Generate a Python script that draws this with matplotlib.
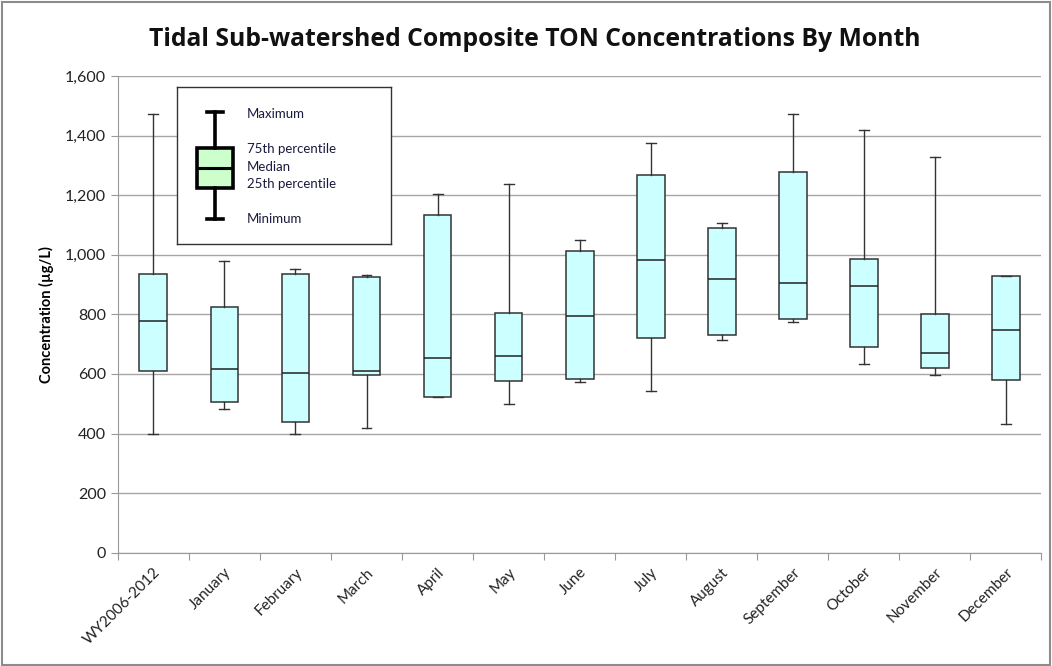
import matplotlib
matplotlib.use("Agg")
import matplotlib.pyplot as plt
from matplotlib.patches import Rectangle
import numpy as np

plt.rcParams['font.family'] = ['Lato', 'DejaVu Sans']

categories = ['WY2006-2012', 'January', 'February', 'March', 'April', 'May', 'June',
              'July', 'August', 'September', 'October', 'November', 'December']
minimum = [397, 483, 397, 420, 522, 500, 573, 543, 714, 773, 634, 597, 433]
q1 = [609, 506, 439, 597, 522, 577, 584, 719, 731, 784, 691, 620, 579]
median = [778, 617, 603, 609, 652, 659, 794, 982, 918, 905, 895, 670, 746]
q3 = [935, 823, 937, 925, 1134, 804, 1011, 1267, 1089, 1277, 987, 802, 928]
maximum = [1473, 979, 952, 932, 1205, 1237, 1049, 1375, 1106, 1473, 1419, 1327, 930]

legend_labels = ['Maximum', '75th percentile', 'Median', '25th percentile', 'Minimum']

fig = plt.figure(figsize=(10.52, 6.66), dpi=100)
ax = fig.add_axes([0.112, 0.170, 0.878, 0.716])

stats = []
for i in range(len(categories)):
    stats.append(dict(whislo=minimum[i], q1=q1[i], med=median[i], q3=q3[i],
                      whishi=maximum[i], fliers=[]))

pos = np.arange(len(categories))
ax.bxp(stats, positions=pos, widths=0.39, capwidths=0.14, patch_artist=True,
       showfliers=False,
       boxprops=dict(facecolor='#ccffff', edgecolor='#333333', linewidth=1.1),
       medianprops=dict(color='#222222', linewidth=1.1),
       whiskerprops=dict(color='#333333', linewidth=1.0),
       capprops=dict(color='#333333', linewidth=1.0))

ax.set_xlim(-0.5, len(categories) - 0.5)
ax.set_ylim(0, 1600)
ax.set_yticks(np.arange(0, 1601, 200))
ax.set_yticklabels([f'{v:,}' for v in range(0, 1601, 200)], fontsize=11.5, color='#222222')
ax.yaxis.grid(True, color='#a6a6a6', linewidth=1.0)
ax.set_axisbelow(True)

ax.set_xticks(np.arange(-0.5, len(categories)), labels=[])
ax.set_xticks(pos, minor=True)
ax.set_xticklabels(categories, minor=True, rotation=45, ha='right',
                   rotation_mode='anchor', fontsize=11, color='#222222')
ax.tick_params(axis='x', which='minor', length=0, pad=9)
ax.tick_params(axis='x', which='major', length=5, color='#999999')
ax.tick_params(axis='y', length=5, color='#999999')

for s in ['top', 'right']:
    ax.spines[s].set_visible(False)
ax.spines['left'].set_color('#999999')
ax.spines['bottom'].set_color('#999999')

ax.set_ylabel('Concentration (µg/L)', fontsize=10.5, fontweight='bold', labelpad=8)
fig.text(0.508, 0.941, 'Tidal Sub-watershed Composite TON Concentrations By Month',
         ha='center', va='center', fontsize=17.8, fontweight='bold', color='#111111',
         family=['Open Sans', 'DejaVu Sans'])

# explanation box
lax = fig.add_axes([0.1683, 0.6336, 0.2034, 0.2357])
lax.set_xticks([])
lax.set_yticks([])
for s in lax.spines.values():
    s.set_color('#333333')
    s.set_linewidth(1.0)
lax.bxp([dict(whislo=0.159, q1=0.357, med=0.484, q3=0.611, whishi=0.841, fliers=[])],
        positions=[0.178], widths=0.168, capwidths=0.075, patch_artist=True,
        showfliers=False, manage_ticks=False,
        boxprops=dict(facecolor='#ccffcc', edgecolor='black', linewidth=2.6),
        medianprops=dict(color='black', linewidth=2.2),
        whiskerprops=dict(color='black', linewidth=2.6),
        capprops=dict(color='black', linewidth=2.6))
lax.set_xlim(0, 1)
lax.set_ylim(0, 1)
for lbl, y in zip(legend_labels, [0.828, 0.605, 0.49, 0.382, 0.159]):
    lax.text(0.327, y, lbl, fontsize=9.5, va='center', ha='left', color='#1a1a40')

fig.patches.append(Rectangle((0.002, 0.002), 0.996, 0.995, transform=fig.transFigure,
                             fill=False, edgecolor='#8c8c8c', linewidth=1.5))

fig.savefig('out.png', dpi=100)
